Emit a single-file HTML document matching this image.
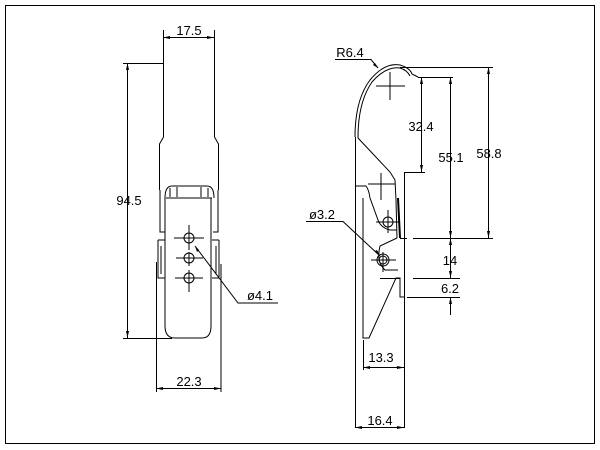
<!DOCTYPE html>
<html><head><meta charset="utf-8"><style>
html,body{margin:0;padding:0;background:#fff;width:600px;height:450px;overflow:hidden}
svg{display:block}
text{font-family:"Liberation Sans",sans-serif;font-size:13px;fill:#000}
</style></head><body>
<svg width="600" height="450" viewBox="0 0 600 450" xmlns="http://www.w3.org/2000/svg">
<g fill="none" stroke="#000" stroke-width="1">
<rect x="5.5" y="5.5" width="589" height="438"/>
<line x1="163.5" y1="30" x2="163.5" y2="137"/>
<line x1="214.5" y1="30" x2="214.5" y2="137"/>
<line x1="163" y1="37.5" x2="214" y2="37.5"/>
<line x1="123" y1="63.5" x2="163" y2="63.5"/>
<line x1="127.5" y1="63" x2="127.5" y2="338"/>
<line x1="123" y1="338.5" x2="172" y2="338.5"/>
<path d="M163.5 137 L159.5 144 L159.5 190 M214.5 137 L218.5 144 L218.5 190"/>
<path d="M160 190 L160 232 L165 232 M218 190 L218 232 L213 232"/>
<path d="M165 198 Q165 186 172 186 L207 186 Q214 186 214 198"/>
<path d="M166 198 L212 198"/>
<path d="M177 187 L177 197 M201 187 L201 197 M170 188 L170 197 M208 188 L208 197"/>
<path d="M165 198 L165 326 Q165 338 175 338 L202 338 Q211 338 211 326 L211 198"/>
<path d="M158 240 L158 278 L165 278 M158 240 L165 240"/>
<path d="M219 240 L219 278 L212 278 M219 240 L212 240"/>
<path d="M161 246 L161 274 M216 246 L216 274 M221 264 L221 392"/>
<line x1="156.5" y1="262" x2="156.5" y2="392"/>
<line x1="156" y1="388.5" x2="221" y2="388.5"/>
<circle cx="189" cy="238" r="5"/><circle cx="189" cy="258" r="5"/><circle cx="189" cy="278" r="5"/>
<path d="M174 238 L204 238 M189 225 L189 250 M176 258 L203 258 M189 252 L189 266 M175 278 L203 278 M189 270 L189 292"/>
<path d="M195 246 L238 303 L278 303"/>
<path d="M355.5 137 L355.5 428"/>
<path d="M404.5 172 L404.5 428"/>
<path d="M355 137 Q355 100 370 80 Q385 62 400 65 Q410 68 412 74 L418 77"/>
<path d="M358 138 Q358 102 372 82 Q386 66 400 68 Q407 70 410 76"/>
<path d="M358 138 L390 172 L395 180 L396 200 L397 238"/>
<path d="M355 186 L366 186 Q369 190 370 198 L378 220 Q381 228 390 230 L397 230"/>
<path d="M363 198 L363 338 L369 338 L396 278 L400 278 L400 297 L404 297"/>
<path d="M397 238 L380 246 Q376 262 385 270 L398 270"/>
<path d="M398 198 L400 238" stroke-width="2"/>
<circle cx="388" cy="222" r="5"/><circle cx="383" cy="260" r="6"/><circle cx="383" cy="260" r="4"/>
<path d="M376 222 L400 222 M388 210 L388 233 M371 260 L396 260 M383 252 L383 272"/>
<path d="M376 86 L405 86 M390 72 L390 100 M368 184 L395 184 M381 173 L381 200"/>
<line x1="363.5" y1="340" x2="363.5" y2="370"/>
<line x1="363" y1="367.5" x2="404" y2="367.5"/>
<line x1="355" y1="427.5" x2="404" y2="427.5"/>
<line x1="400" y1="67.5" x2="493" y2="67.5"/>
<line x1="418" y1="77.5" x2="453" y2="77.5"/>
<line x1="405" y1="172.5" x2="425" y2="172.5"/>
<line x1="400" y1="238.5" x2="407" y2="238.5"/><line x1="413" y1="238.5" x2="493" y2="238.5"/>
<line x1="380" y1="278.5" x2="400" y2="278.5"/><line x1="413" y1="278.5" x2="460" y2="278.5"/>
<line x1="407" y1="297.5" x2="460" y2="297.5"/>
<line x1="421.5" y1="77" x2="421.5" y2="172"/>
<line x1="450.5" y1="77" x2="450.5" y2="278"/>
<line x1="488.5" y1="67" x2="488.5" y2="238"/>
<line x1="450.5" y1="297" x2="450.5" y2="315"/>
<path d="M335 59.5 L371 59.5 L378 68"/>
<path d="M306 221.5 L343 221.5 L380 256"/>
</g>
<g fill="#000">
<path d="M163 37.5 l7 -1.5 v3z M214 37.5 l-7 -1.5 v3z M127.5 63 l-1.5 7 h3z M127.5 338 l-1.5 -7 h3z M156 388.5 l7 -1.5 v3z M221 388.5 l-7 -1.5 v3z M195 246 l2 6 l2 -2z"/>
<path d="M363 367.5 l7 -1.5 v3z M404 367.5 l-7 -1.5 v3z M355 427.5 l7 -1.5 v3z M404 427.5 l-7 -1.5 v3z"/>
<path d="M421.5 77 l-1.5 7 h3z M421.5 172 l-1.5 -7 h3z M450.5 77 l-1.5 7 h3z M450.5 238 l-1.5 -7 h3z M450.5 238 l-1.5 7 h3z M450.5 278 l-1.5 -7 h3z M450.5 297 l-1.5 7 h3z M488.5 67 l-1.5 7 h3z M488.5 238 l-1.5 -7 h3z M378 68 l-5 -3 l2 -2z M380 256 l-5 -5 l2 -1z"/>
</g>
<text x="189" y="35" text-anchor="middle">17.5</text>
<text x="129" y="205" text-anchor="middle">94.5</text>
<text x="189" y="386" text-anchor="middle">22.3</text>
<text x="260" y="300" text-anchor="middle">ø4.1</text>
<text x="350" y="57" text-anchor="middle">R6.4</text>
<text x="322" y="219" text-anchor="middle">ø3.2</text>
<text x="421" y="131" text-anchor="middle">32.4</text>
<text x="451" y="162" text-anchor="middle">55.1</text>
<text x="489" y="158" text-anchor="middle">58.8</text>
<text x="450" y="265" text-anchor="middle">14</text>
<text x="450" y="293" text-anchor="middle">6.2</text>
<text x="381" y="362" text-anchor="middle">13.3</text>
<text x="380" y="425" text-anchor="middle">16.4</text>
</svg>
</body></html>
